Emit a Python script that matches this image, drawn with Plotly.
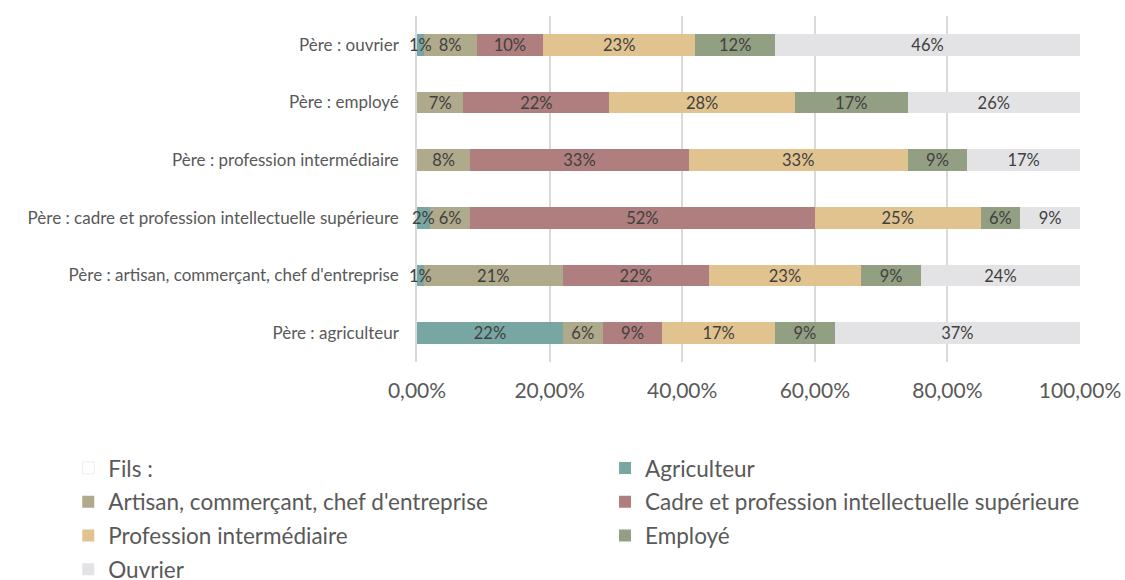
import plotly.graph_objects as go

# Father's occupation (bottom to top on the chart)
peres = [
    "Père : agriculteur",
    "Père : artisan, commerçant, chef d'entreprise",
    "Père : cadre et profession intellectuelle supérieure",
    "Père : profession intermédiaire",
    "Père : employé",
    "Père : ouvrier",
]

# Son's occupation shares (%) for each father category, same order as peres
agriculteur = [22, 1, 2, 0, 0, 1]
artisan = [6, 21, 6, 8, 7, 8]
cadre = [9, 22, 52, 33, 22, 10]
intermediaire = [17, 23, 25, 33, 28, 23]
employe = [9, 9, 6, 9, 17, 12]
ouvrier = [37, 24, 9, 17, 26, 46]

series = [
    ("Agriculteur", agriculteur, "#78A6A2", "legend2", 1),
    ("Artisan, commerçant, chef d'entreprise", artisan, "#B0AA8C", "legend", 2),
    ("Cadre et profession intellectuelle supérieure", cadre, "#AF7E7E", "legend2", 2),
    ("Profession intermédiaire", intermediaire, "#E0C38E", "legend", 3),
    ("Employé", employe, "#929F82", "legend2", 3),
    ("Ouvrier", ouvrier, "#E3E3E6", "legend", 4),
]

FONT = "Lato, 'Open Sans', sans-serif"
TXT = "#595959"
LABEL = "#404040"
LABEL_SIZE = 16.5
SMALL = 3  # segments narrower than this (in %) get their label as an annotation

fig = go.Figure()

# Legend heading entry
fig.add_trace(go.Bar(
    y=peres, x=[None] * len(peres), orientation="h", name="Fils :",
    marker=dict(color="#FFFFFF", line=dict(color="#EDEDED", width=1)),
    legend="legend", legendrank=1, legendgroup="fils", hoverinfo="skip",
))

annotations = []
base = [0] * len(peres)
for name, vals, color, leg, rank in series:
    fig.add_trace(go.Bar(
        y=peres,
        x=[v / 100 for v in vals],
        orientation="h",
        name=name,
        marker=dict(color=color, line=dict(width=0)),
        text=[f"{v}%" if v >= SMALL else "" for v in vals],
        textposition="inside",
        insidetextanchor="middle",
        constraintext="none",
        textangle=0,
        textfont=dict(family=FONT, size=LABEL_SIZE, color=LABEL),
        legend=leg,
        legendrank=rank,
        legendgroup=name,
    ))
    # labels of thin segments overflow the bar, centred on the segment
    for i, v in enumerate(vals):
        if 0 < v < SMALL:
            annotations.append(dict(
                x=(base[i] + v / 2) / 100, y=peres[i], xref="x", yref="y",
                text=f"{v}%", showarrow=False,
                font=dict(family=FONT, size=LABEL_SIZE, color=LABEL),
            ))
        base[i] += v

fig.update_layout(
    width=1125, height=580,
    barmode="stack",
    bargap=0.62,
    separators=", ",
    paper_bgcolor="white",
    plot_bgcolor="white",
    margin=dict(l=417, r=45, t=16, b=218, autoexpand=False),
    font=dict(family=FONT, color=TXT),
    annotations=annotations,
    xaxis=dict(
        range=[0, 1],
        tickvals=[0, 0.2, 0.4, 0.6, 0.8, 1.0],
        tickformat=".2%",
        showgrid=True,
        gridcolor="#D9D9D9",
        gridwidth=1.5,
        zeroline=False,
        showline=False,
        ticks="",
        ticklabelstandoff=14,
        tickfont=dict(family=FONT, size=21, color=TXT),
        fixedrange=True,
    ),
    yaxis=dict(
        showgrid=False,
        showline=True,
        linecolor="#D9D9D9",
        linewidth=1.5,
        ticks="",
        ticklabelstandoff=13,
        tickfont=dict(family=FONT, size=17, color=TXT),
        fixedrange=True,
    ),
    legend=dict(
        x=-0.526, xanchor="left", y=-0.245, yanchor="top",
        orientation="v", traceorder="grouped", tracegroupgap=1.5,
        font=dict(family=FONT, size=22.5, color=TXT),
        bgcolor="rgba(0,0,0,0)",
    ),
    legend2=dict(
        x=0.2836, xanchor="left", y=-0.245, yanchor="top",
        orientation="v", traceorder="grouped", tracegroupgap=1.5,
        font=dict(family=FONT, size=22.5, color=TXT),
        bgcolor="rgba(0,0,0,0)",
    ),
    showlegend=True,
)

fig.write_html("out.html")
